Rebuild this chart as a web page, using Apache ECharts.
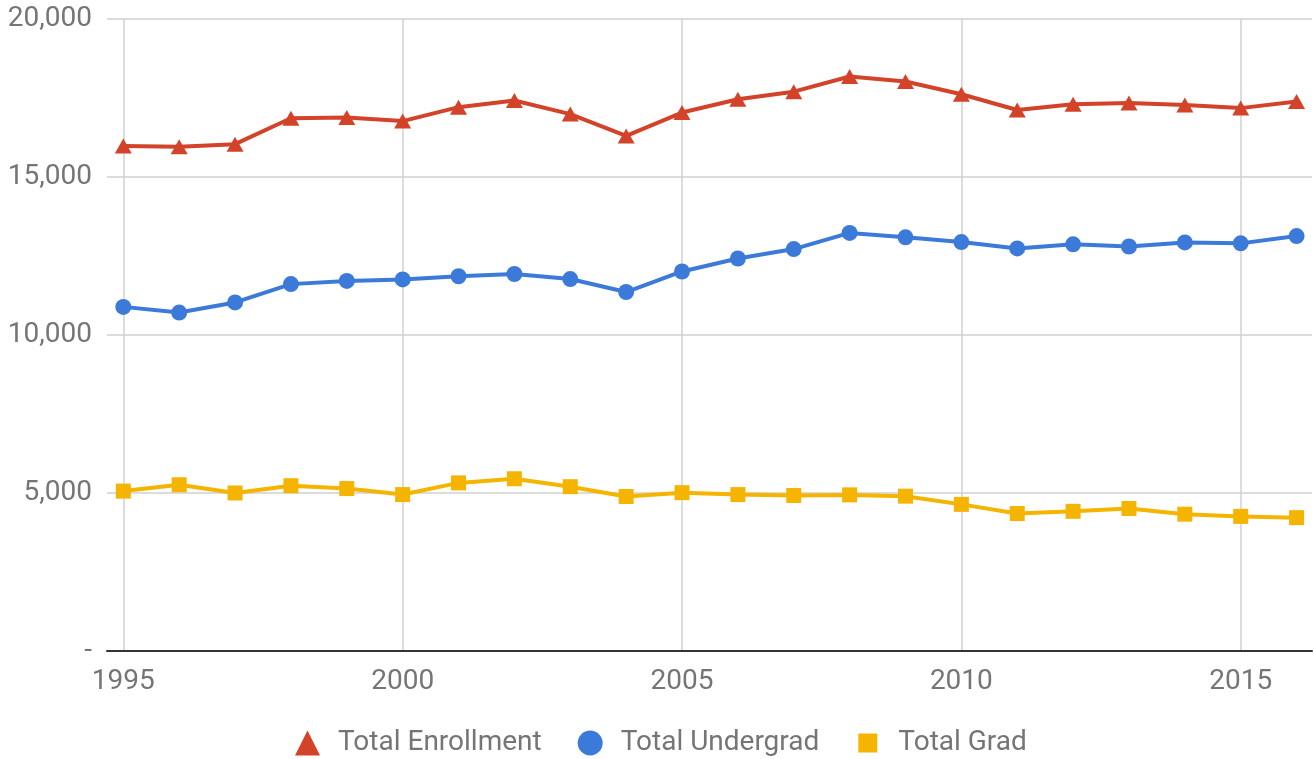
<!DOCTYPE html>
<html>
<head>
<meta charset="utf-8">
<script src="https://cdn.jsdelivr.net/npm/echarts@6/dist/echarts.min.js"></script>
<style>
  html, body { margin: 0; padding: 0; background: #fff; }
  #chart { width: 1314px; height: 759px; }
</style>
</head>
<body>
<div id="chart"></div>
<script>
// Enrollment by academic year
const years = [1995, 1996, 1997, 1998, 1999, 2000, 2001, 2002, 2003, 2004, 2005,
               2006, 2007, 2008, 2009, 2010, 2011, 2012, 2013, 2014, 2015, 2016];
const totalEnrollment = [15980, 15960, 16040, 16860, 16880, 16770, 17210, 17420, 16990, 16300, 17040,
                         17460, 17700, 18180, 18020, 17620, 17120, 17300, 17340, 17280, 17180, 17390];
const totalUndergrad = [10890, 10710, 11030, 11610, 11710, 11760, 11860, 11930, 11770, 11360, 12010,
                        12420, 12720, 13230, 13090, 12940, 12740, 12870, 12800, 12930, 12900, 13130];
const totalGrad = [5060, 5260, 5000, 5230, 5140, 4950, 5320, 5450, 5200, 4890, 5010,
                   4950, 4920, 4940, 4900, 4640, 4350, 4420, 4510, 4330, 4260, 4220];
const yearTicks = [1995, 2000, 2005, 2010, 2015];
const seriesNames = ['Total Enrollment', 'Total Undergrad', 'Total Grad'];

const RED = '#d2432a', BLUE = '#3c7ad9', GOLD = '#f4b400';
const FONT = 'Roboto';

function pairs(values) {
  return years.map((y, i) => [y, values[i]]);
}

const chart = echarts.init(document.getElementById('chart'), null, { renderer: 'canvas' });

function lineSeries(name, values, color, symbol, size) {
  return {
    name: name,
    type: 'line',
    data: pairs(values),
    symbol: symbol,
    symbolSize: size,
    showAllSymbol: true,
    lineStyle: { color: color, width: 4 },
    itemStyle: { color: color },
    emphasis: { disabled: true },
    animation: false
  };
}

chart.setOption({
  backgroundColor: '#ffffff',
  textStyle: { fontFamily: FONT },
  grid: { left: 107, right: 2, top: 19, bottom: 108, containLabel: false },
  xAxis: {
    type: 'value',
    min: 1994.708,
    max: 2016.276,
    axisLine: { show: true, onZero: false, lineStyle: { color: '#333333', width: 2 } },
    axisTick: { show: false, customValues: yearTicks },
    axisLabel: {
      customValues: yearTicks,
      color: '#757575',
      fontSize: 28,
      fontFamily: FONT,
      margin: 17,
      formatter: v => String(v)
    },
    splitLine: { show: true, lineStyle: { color: '#d0d0d0', width: 1.5 } }
  },
  yAxis: {
    type: 'value',
    min: 0,
    max: 20000,
    interval: 5000,
    axisLine: { show: false },
    axisTick: { show: false },
    axisLabel: {
      color: '#757575',
      fontSize: 28,
      fontFamily: FONT,
      margin: 15,
      formatter: v => v === 0 ? '-' : v.toLocaleString('en-US')
    },
    splitLine: { show: true, lineStyle: { color: '#d0d0d0', width: 1.5 } }
  },
  legend: {
    bottom: -3,
    left: 290,
    itemGap: 36,
    itemWidth: 25,
    itemHeight: 25,
    selectedMode: false,
    textStyle: { color: '#757575', fontSize: 28, fontFamily: FONT, padding: [0, 0, 0, 13] },
    data: [
      { name: seriesNames[0], icon: 'triangle' },
      { name: seriesNames[1], icon: 'circle' },
      { name: seriesNames[2], icon: 'path://M0,0M25,25M3,3L22,3L22,22L3,22Z' }
    ]
  },
  series: [
    lineSeries(seriesNames[0], totalEnrollment, RED, 'triangle', [17, 15]),
    lineSeries(seriesNames[1], totalUndergrad, BLUE, 'circle', 16),
    lineSeries(seriesNames[2], totalGrad, GOLD, 'rect', 15)
  ]
});
</script>
</body>
</html>
